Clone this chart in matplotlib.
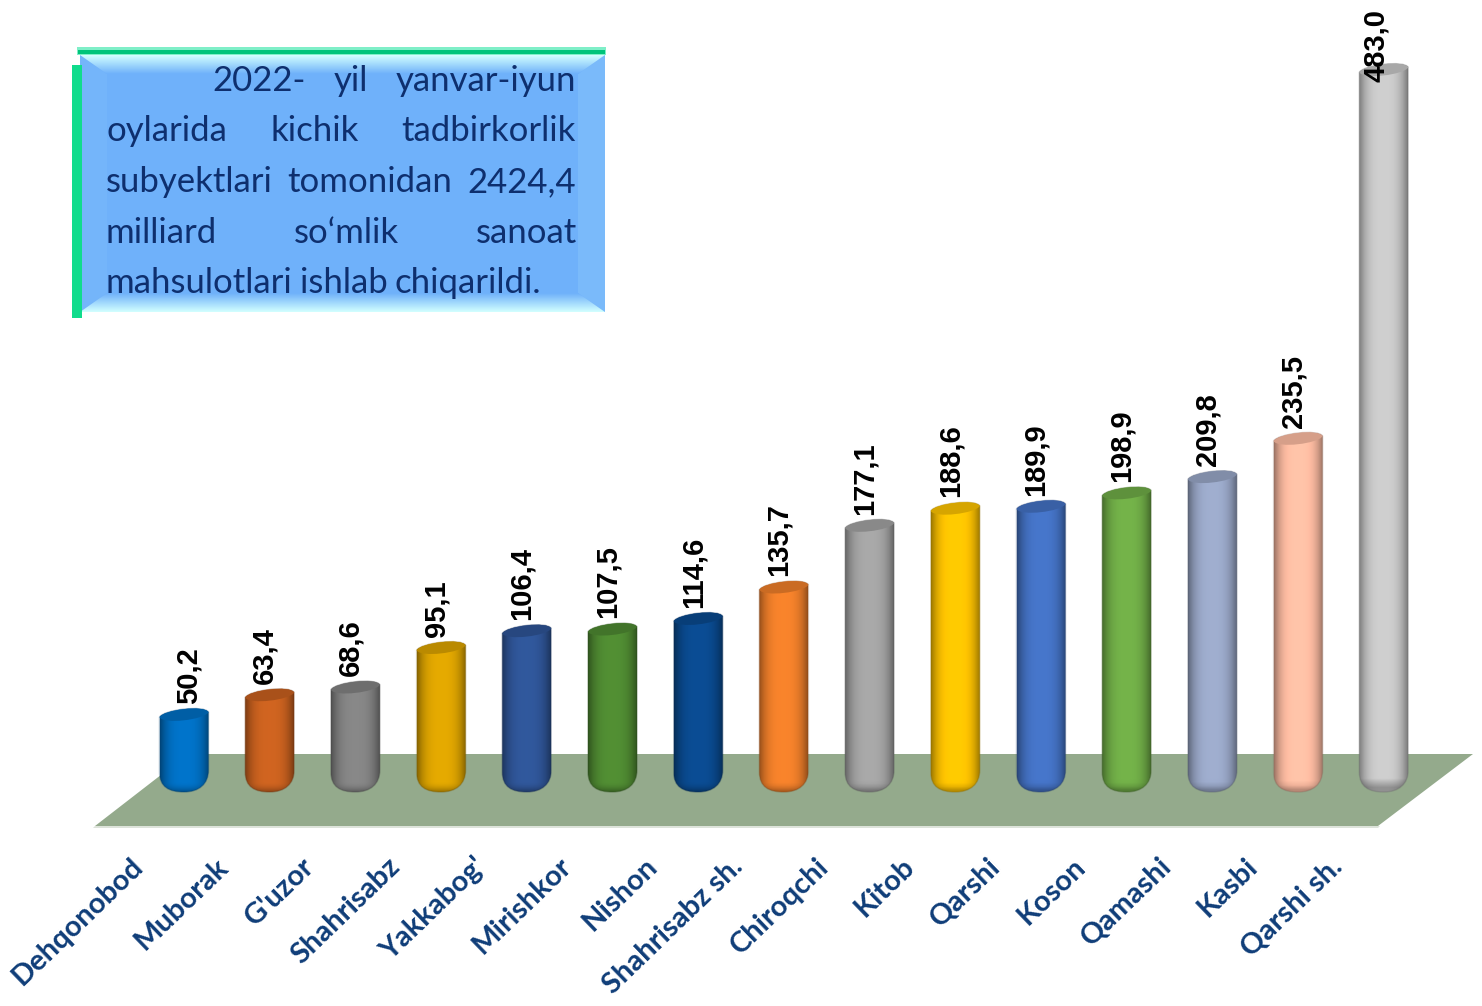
import numpy as np
import matplotlib
matplotlib.use('Agg')
import matplotlib.pyplot as plt
from matplotlib.patches import Polygon, PathPatch
from matplotlib.path import Path
from matplotlib.colors import to_rgb

# Chart data
categories = ['Dehqonobod', 'Muborak', "G'uzor", 'Shahrisabz', "Yakkabog'", 'Mirishkor', 'Nishon',
              'Shahrisabz sh.', 'Chiroqchi', 'Kitob', 'Qarshi', 'Koson', 'Qamashi', 'Kasbi', 'Qarshi sh.']
values = [50.2, 63.4, 68.6, 95.1, 106.4, 107.5, 114.6, 135.7, 177.1, 188.6, 189.9, 198.9, 209.8, 235.5, 483.0]
value_labels = ['50,2', '63,4', '68,6', '95,1', '106,4', '107,5', '114,6', '135,7', '177,1', '188,6',
                '189,9', '198,9', '209,8', '235,5', '483,0']
bar_colors = ['#0070C4', '#C9611F', '#838383', '#DDA400', '#2F5597', '#4F8A32', '#0A4A8F', '#F07F2A',
              '#A3A3A3', '#FFC400', '#4472C4', '#70AD47', '#9AA8C8', '#FFBDA3', '#C8C8C8']
box_lines = [['2022-', 'yil', 'yanvar-iyun'],
             ['oylarida', 'kichik', 'tadbirkorlik'],
             ['subyektlari', 'tomonidan', '2424,4'],
             ['milliard', 'so\u2018mlik', 'sanoat'],
             ['mahsulotlari', 'ishlab', 'chiqarildi.']]

W, H = 1482, 1006
fig = plt.figure(figsize=(W / 100, H / 100), dpi=100, facecolor='white')

# Main axes: category index / value, fills the whole figure
ax = fig.add_axes([0, 0, 1, 1])
ax.set_xlim((0 - 184) / 85.7, (W - 184) / 85.7)
ax.set_ylim(-(H - 789.5) / 1.49, 789.5 / 1.49)
ax.axis('off')

# Overlay in pixels for the decoration (floor, text box)
pax = fig.add_axes([0, 0, 1, 1])
pax.set_xlim(0, W)
pax.set_ylim(H, 0)
pax.axis('off')
pax.patch.set_alpha(0)


def to_px(x, y):
    px, py = ax.transData.transform((x, y))
    return px, H - py


def gradient_fill(arr, extent, clip, zorder):
    im = pax.imshow(arr, extent=extent, aspect='auto', interpolation='bilinear', zorder=zorder)
    im.set_clip_path(clip)
    return im


# Floor
pax.add_patch(Polygon([(93, 828), (1378, 828), (1380, 826), (95, 826)], color='#DDE3DA', lw=0, zorder=1))
pax.add_patch(Polygon([(95, 826), (1378, 826), (1473, 754), (188, 754)], color='#94AA8C', lw=0, zorder=1))

# Cylinders
half_w = 24.5
bottom_y = 792
for i, (v, col) in enumerate(zip(values, bar_colors)):
    xc, yt = to_px(i, v)
    l, r = xc - half_w, xc + half_w
    tilt = 2.5
    # body outline: tilted top, rounded bottom
    verts = [(l, yt + tilt), (l, bottom_y - 20),
             (l, bottom_y - 5), (xc - 15, bottom_y), (xc, bottom_y),
             (xc + 15, bottom_y), (r, bottom_y - 8), (r, bottom_y - 22),
             (r, yt - tilt),
             (r - 4, yt - 10), (l + 4, yt - 5), (l, yt + tilt),
             (l, yt + tilt)]
    codes = [Path.MOVETO, Path.LINETO,
             Path.CURVE4, Path.CURVE4, Path.CURVE4,
             Path.CURVE4, Path.CURVE4, Path.CURVE4,
             Path.LINETO,
             Path.CURVE4, Path.CURVE4, Path.CURVE4,
             Path.CLOSEPOLY]
    dark = tuple(c * 0.84 for c in to_rgb(col))
    edge = tuple(c * 0.55 for c in to_rgb(col))
    clip = PathPatch(Path(verts, codes), transform=pax.transData, fc='none', ec='none')
    pax.add_patch(clip)

    # shading: dark edges, light middle, darker towards the very bottom
    t = np.linspace(-1, 1, 60)
    across = 1.04 - 0.42 * np.abs(t) ** 3
    rows = 80
    ys = np.linspace(yt - 9, bottom_y, rows)
    down = 1 - 0.30 * np.clip((ys - (bottom_y - 10)) / 10, 0, 1) ** 2
    rgb = np.clip(np.array(to_rgb(col))[None, None, :] * (down[:, None] * across[None, :])[:, :, None], 0, 1)
    gradient_fill(rgb, (l, r, bottom_y, yt - 9), clip, 3)
    pax.add_patch(PathPatch(Path(verts, codes), fc='none', ec=edge, lw=1.0, alpha=0.35, zorder=3.5))

    # top ellipse, a shade darker
    top_verts = [(l, yt + tilt), (l + 4, yt + 10), (r - 4, yt + 5), (r, yt - tilt),
                 (r - 4, yt - 10), (l + 4, yt - 5), (l, yt + tilt), (l, yt + tilt)]
    top_codes = [Path.MOVETO, Path.CURVE4, Path.CURVE4, Path.CURVE4,
                 Path.CURVE4, Path.CURVE4, Path.CURVE4, Path.CLOSEPOLY]
    pax.add_patch(PathPatch(Path(top_verts, top_codes), fc=dark, ec='none', zorder=4))

    # value label: sits above the bar, first one to the right, last one pushed into the bar
    dx, dy = -5, -11
    if i == 0:
        dx = 5
    if v == max(values):
        dx, dy = -8, 12
    pax.text(xc + dx, yt + dy, value_labels[i], rotation=90, ha='center', va='bottom',
             fontsize=21, fontweight='bold', family='Liberation Sans', color='black', zorder=6)

    # category label
    pax.text(xc - 54, 853, categories[i], rotation=44, rotation_mode='anchor', ha='right', va='top',
             fontsize=21, fontweight='bold', family='Lato', color='#0F3D78', zorder=6)

# Text box with bevel
bx0, bx1, by0, by1 = 80, 605, 55, 312
ix, iy = 27, 19
center = np.array(to_rgb('#6FB1FA'))
pale = np.array(to_rgb('#D2FFFF'))
pax.add_patch(Polygon([(bx0, by0), (bx1, by0), (bx1, by1), (bx0, by1)], color=center, lw=0, zorder=2))


def bevel(pts, start, end, extent):
    p = Polygon(pts, transform=pax.transData, fc='none', ec='none')
    pax.add_patch(p)
    s = np.linspace(0, 1, 40)[:, None]
    ramp = start[None, :] * (1 - s) + end[None, :] * s
    gradient_fill(ramp[:, None, :], extent, p, 3)


side_l = np.array(to_rgb('#74B5FA'))
side_r = np.array(to_rgb('#7ABAFA'))
# left and right strips, then top and bottom
pax.add_patch(Polygon([(bx0, by0), (bx0 + ix, by0 + iy), (bx0 + ix, by1 - iy), (bx0, by1)], color=side_l, lw=0, zorder=3))
pax.add_patch(Polygon([(bx1, by0), (bx1 - ix, by0 + iy), (bx1 - ix, by1 - iy), (bx1, by1)], color=side_r, lw=0, zorder=3))
bevel([(bx0, by0), (bx1, by0), (bx1 - ix, by0 + iy), (bx0 + ix, by0 + iy)], pale, center,
      (bx0, bx1, by0 + iy, by0))
bevel([(bx0, by1), (bx1, by1), (bx1 - ix, by1 - iy), (bx0 + ix, by1 - iy)], center, pale,
      (bx0, bx1, by1, by1 - iy))

# green lines on top and left
pax.add_patch(Polygon([(77, 47), (606, 47), (606, 55), (77, 55)], color='#7FEFC8', lw=0, zorder=4))
pax.add_patch(Polygon([(78, 49.5), (605, 49.5), (605, 54), (78, 54)], color='#00C47A', lw=0, zorder=4))
pax.add_patch(Polygon([(72, 65), (82, 65), (82, 318), (72, 318)], color='#10DC8C', lw=0, zorder=4))

# Justified box text, word widths measured with the renderer
renderer = fig.canvas.get_renderer()
line_x0 = [212, 106, 106, 106, 106]
line_x1 = [576, 576, 576, 577, None]
line_y = [78, 128, 179, 230, 280]
for words, x0, x1, y in zip(box_lines, line_x0, line_x1, line_y):
    txts = [pax.text(0, y, w, fontsize=25, family='Lato', color='#0E2F6E', ha='left', va='center_baseline', zorder=6)
            for w in words]
    widths = [t.get_window_extent(renderer).width for t in txts]
    if x1 is None:
        gap = 7
    else:
        gap = (x1 - x0 - sum(widths)) / (len(words) - 1)
    x = x0
    for t, w in zip(txts, widths):
        t.set_x(x)
        x += w + gap

pax.set_xlim(0, W)
pax.set_ylim(H, 0)
fig.savefig('out.png', dpi=100)
